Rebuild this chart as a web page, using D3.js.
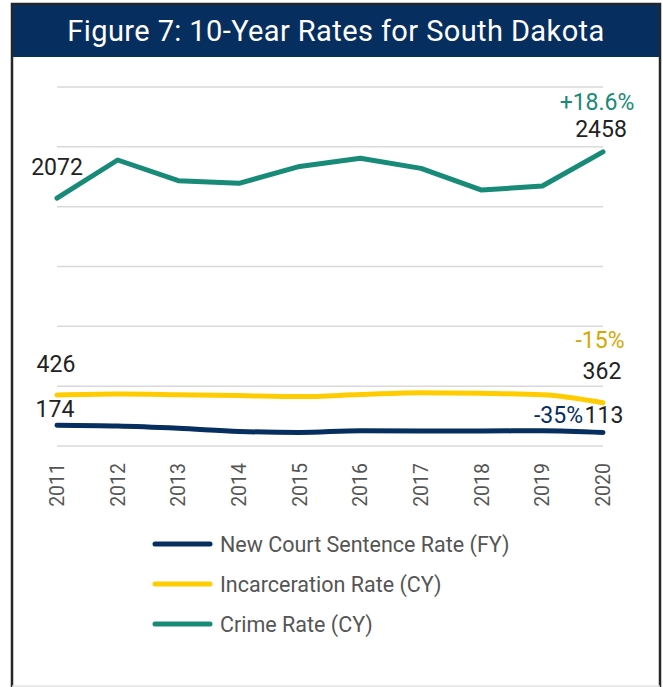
<!DOCTYPE html>
<html>
<head>
<meta charset="utf-8">
<script src="https://cdn.jsdelivr.net/npm/d3@7"></script>
<style>
  body { margin: 0; background: #fff; }
  svg { display: block; font-family: Roboto, "Noto Sans", sans-serif; }
</style>
</head>
<body>
<svg id="chart" width="663" height="687"></svg>
<script>
// Data
var years = [2011, 2012, 2013, 2014, 2015, 2016, 2017, 2018, 2019, 2020];
var sentenceRate = [174, 167, 148, 122, 113, 128, 126, 125, 128, 113];
var incarcerationRate = [426, 435, 429, 421, 413, 430, 446, 441, 429, 362];
var crimeRate = [2072, 2390, 2217, 2195, 2336, 2404, 2320, 2139, 2173, 2458];
var seriesNames = ['New Court Sentence Rate (FY)', 'Incarceration Rate (CY)', 'Crime Rate (CY)'];
var changeLabels = ['-35%', '-15%', '+18.6%'];
var gridTicks = [0, 500, 1000, 1500, 2000, 2500, 3000];

var navy = '#062e5f', gold = '#ffcc00', teal = '#178a78';

var svg = d3.select('#chart');

// Frame + title bar
svg.append('rect')
  .attr('x', 12).attr('y', 4).attr('width', 648).attr('height', 690)
  .attr('fill', '#fff').attr('stroke', '#262626').attr('stroke-width', 2.5);
svg.append('line')
  .attr('x1', 12).attr('x2', 660).attr('y1', 686).attr('y2', 686)
  .attr('stroke', '#e4e4e4').attr('stroke-width', 1.5);
svg.append('rect')
  .attr('x', 13).attr('y', 5).attr('width', 646).attr('height', 52)
  .attr('fill', navy);
svg.append('text')
  .attr('x', 336).attr('y', 41)
  .attr('text-anchor', 'middle')
  .attr('fill', '#fff')
  .style('font-size', '29px')
  .style('letter-spacing', '0.4px')
  .text('Figure 7: 10-Year Rates for South Dakota');

// Scales
var x = d3.scalePoint().domain(years).range([57, 603]);
var y = d3.scaleLinear().domain([0, 3000]).range([446, 87]);

// Gridlines
svg.append('g').selectAll('line')
  .data(gridTicks)
  .join('line')
    .attr('x1', 57).attr('x2', 603)
    .attr('y1', d => y(d)).attr('y2', d => y(d))
    .attr('stroke', '#d9d9d9').attr('stroke-width', 1.5);

// Lines
var series = [
  { name: seriesNames[0], values: sentenceRate, color: navy, curve: d3.curveMonotoneX },
  { name: seriesNames[1], values: incarcerationRate, color: gold, curve: d3.curveMonotoneX },
  { name: seriesNames[2], values: crimeRate, color: teal, curve: d3.curveLinear }
];

series.forEach(function(s) {
  var line = d3.line()
    .x((d, i) => x(years[i]))
    .y(d => y(d))
    .curve(s.curve);
  svg.append('path')
    .datum(s.values)
    .attr('d', line)
    .attr('fill', 'none')
    .attr('stroke', s.color)
    .attr('stroke-width', 5)
    .attr('stroke-linecap', 'round')
    .attr('stroke-linejoin', 'round');
});

// X axis labels (rotated)
svg.append('g').selectAll('text')
  .data(years)
  .join('text')
    .attr('transform', d => 'translate(' + (x(d) + 7) + ',463) rotate(-90)')
    .attr('text-anchor', 'end')
    .attr('fill', '#555')
    .style('font-size', '19.5px')
    .text(d => d);

// Value labels
var first = 0, last = years.length - 1;
var valueLabels = [
  { x: x(years[first]), y: y(crimeRate[first]) - 23, text: crimeRate[first], anchor: 'middle', color: '#222' },
  { x: x(years[last]) - 2, y: y(crimeRate[last]) - 15, text: crimeRate[last], anchor: 'middle', color: '#222' },
  { x: x(years[last]) - 6, y: y(crimeRate[last]) - 42, text: changeLabels[2], anchor: 'middle', color: teal },
  { x: x(years[first]) - 1, y: y(incarcerationRate[first]) - 23, text: incarcerationRate[first], anchor: 'middle', color: '#222' },
  { x: x(years[last]) - 1, y: y(incarcerationRate[last]) - 24, text: incarcerationRate[last], anchor: 'middle', color: '#222' },
  { x: x(years[last]) - 3, y: y(incarcerationRate[last]) - 55, text: changeLabels[1], anchor: 'middle', color: '#d4a800' },
  { x: x(years[first]) - 2, y: y(sentenceRate[first]) - 8, text: sentenceRate[first], anchor: 'middle', color: '#222' },
  { x: x(years[last]) + 1, y: y(sentenceRate[last]) - 9, text: sentenceRate[last], anchor: 'middle', color: '#222' },
  { x: x(years[last]) - 20, y: y(sentenceRate[last]) - 9, text: changeLabels[0], anchor: 'end', color: navy }
];
svg.append('g').selectAll('text')
  .data(valueLabels)
  .join('text')
    .attr('x', d => d.x).attr('y', d => d.y)
    .attr('text-anchor', d => d.anchor)
    .attr('fill', d => d.color)
    .style('font-size', '23px')
    .text(d => d.text);

// Legend
var legend = svg.append('g').selectAll('g')
  .data(series)
  .join('g')
    .attr('transform', (d, i) => 'translate(155,' + (544 + i * 40) + ')');
legend.append('line')
  .attr('x1', 0).attr('x2', 55)
  .attr('stroke', d => d.color)
  .attr('stroke-width', 5)
  .attr('stroke-linecap', 'round');
legend.append('text')
  .attr('x', 65).attr('y', 8)
  .attr('fill', '#555')
  .style('font-size', '21.5px')
  .text(d => d.name);
</script>
</body>
</html>
